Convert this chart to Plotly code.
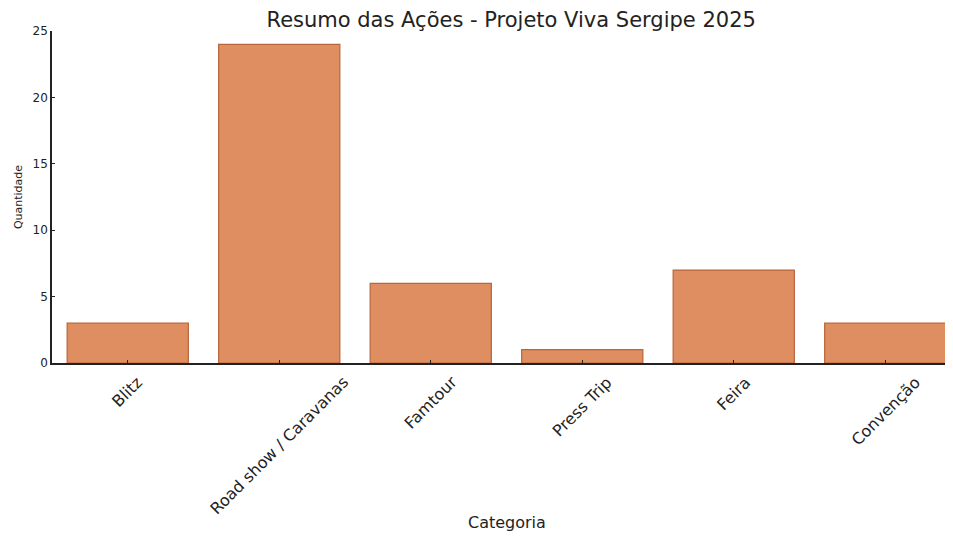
import plotly.graph_objects as go

categorias = ["Blitz", "Road show / Caravanas", "Famtour", "Press Trip", "Feira", "Convenção"]
quantidades = [3, 24, 6, 1, 7, 3]
y_ticks = [0, 5, 10, 15, 20, 25]

FONT = "DejaVu Sans"
INK = "#222"

fig = go.Figure(go.Bar(
    x=categorias, y=quantidades, width=0.8,
    marker=dict(color="#DE8E60", line=dict(color="#B8663D", width=1.2)),
))

# rotated category labels centred on their ticks (matplotlib style)
for cat in categorias:
    fig.add_annotation(
        x=cat, xref="x", y=0, yref="paper", yanchor="top", xanchor="center",
        yshift=-7, text=cat, textangle=-45, showarrow=False,
        font=dict(size=16, family=FONT, color=INK),
    )

fig.add_annotation(
    x=0.5, xref="paper", y=0, yref="paper", yanchor="middle", xanchor="center",
    yshift=-159, text="Categoria", showarrow=False,
    font=dict(size=16, family=FONT, color=INK),
)

fig.update_layout(
    width=953, height=537,
    margin=dict(l=44, r=0, t=23, b=182),
    paper_bgcolor="white", plot_bgcolor="white",
    font=dict(family=FONT, color=INK),
    showlegend=False,
    title=dict(text="Resumo das Ações - Projeto Viva Sergipe 2025",
               x=0.528, xanchor="center", y=0.979, yanchor="middle",
               font=dict(size=21, family=FONT, color=INK)),
)
fig.update_xaxes(
    range=[-0.5, 5.5], automargin=False, showticklabels=False,
    showline=True, linecolor=INK, linewidth=1.6,
    ticks="inside", ticklen=3, tickcolor=INK,
    showgrid=False,
)
fig.update_yaxes(
    range=[0, 25], tickvals=y_ticks, automargin=False,
    tickfont=dict(size=12, family=FONT, color=INK),
    showline=True, linecolor=INK, linewidth=1.6,
    ticks="inside", ticklen=3, tickcolor=INK,
    showgrid=False, zeroline=False,
    title=dict(text="Quantidade", font=dict(size=11, family=FONT, color=INK), standoff=8),
)

fig.write_html("out.html")
